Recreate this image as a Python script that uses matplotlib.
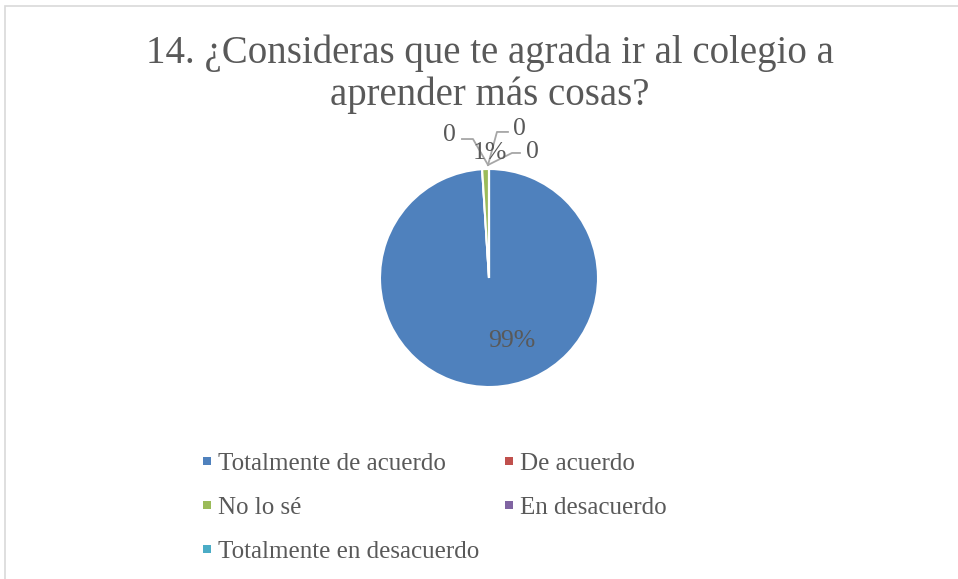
import numpy as np
import matplotlib.pyplot as plt
from matplotlib.patches import Rectangle
from matplotlib.lines import Line2D

categorias = ["Totalmente de acuerdo", "De acuerdo", "No lo sé",
              "En desacuerdo", "Totalmente en desacuerdo"]
valores = [99, 0, 1, 0, 0]
etiquetas = ["99%", "0", "1%", "0", "0"]
colores = ["#4F81BD", "#C0504D", "#9BBB59", "#8064A2", "#4BACC6"]

gris = "#595959"
plt.rcParams['font.family'] = ['Liberation Serif', 'DejaVu Serif']

W, H = 958, 579
fig = plt.figure(figsize=(W / 100, H / 100), dpi=100)

# marco del gráfico (solo se ven arriba e izquierda)
fig.patches.append(Rectangle((4.5 / W, -0.1), 1.2, 1 - 5.5 / H + 0.1,
                             transform=fig.transFigure, fill=False,
                             edgecolor="#D9D9D9", lw=1.2))

fig.text(490 / W, 1 - 74 / H, "14. ¿Consideras que te agrada ir al colegio a\naprender más cosas?",
         ha="center", va="center", fontsize=28, color=gris, linespacing=1.16)

cx, cy, r = 489, 278, 109
ax = fig.add_axes([(cx - r) / W, (H - cy - r) / H, 2 * r / W, 2 * r / H])
wedges, _ = ax.pie(valores, colors=colores, startangle=90, counterclock=False,
                   radius=1, wedgeprops=dict(edgecolor="white", linewidth=1.5))
ax.set_xlim(-1, 1)
ax.set_ylim(-1, 1)
ax.set_aspect("equal")
ax.axis("off")

fs = 18.5
# etiqueta de la porción grande
ax.text(0.21, -0.58, etiquetas[0], ha="center", va="center", fontsize=fs, color=gris)
ax.text(0.01, 1.15, etiquetas[2], ha="center", va="center", fontsize=fs, color=gris)

# etiquetas de valor cero con líneas guía
guias = [
    (etiquetas[1], (-0.36, 1.31), [(-0.248, 1.275), (-0.147, 1.275), (-0.009, 1.037)]),
    (etiquetas[3], (0.275, 1.37), [(0.174, 1.34), (0.073, 1.34), (-0.009, 1.037)]),
    (etiquetas[4], (0.395, 1.16), [(0.284, 1.147), (0.211, 1.147), (-0.009, 1.037)]),
]
for txt, pos, linea in guias:
    xs, ys = zip(*linea)
    ax.plot(xs, ys, color="#A6A6A6", lw=1.3, clip_on=False)
    ax.text(pos[0], pos[1], txt, ha="center", va="center", fontsize=fs, color=gris)

orden = [0, 2, 4, 1, 3]
handles = [Line2D([], [], ls="", marker="s", markersize=5.5, markeredgewidth=0,
                  color=colores[i]) for i in orden]
leg = fig.legend(handles, [categorias[i] for i in orden],
                 loc="upper left", bbox_to_anchor=(181 / W, 1 - 430 / H),
                 ncol=2, frameon=False, fontsize=18, labelcolor=gris,
                 handlelength=0.3, handletextpad=0.3,
                 columnspacing=1.0, labelspacing=0.85)

fig.savefig("out.png", dpi=100)
